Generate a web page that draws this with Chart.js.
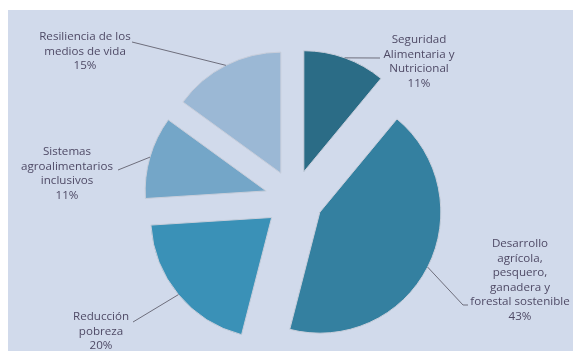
<!DOCTYPE html>
<html>
<head>
<meta charset="utf-8">
<script src="https://cdn.jsdelivr.net/npm/chart.js@4.4.1/dist/chart.umd.min.js"></script>
<style>
  html, body { margin: 0; padding: 0; background: #ffffff; }
  #wrap { width: 573px; height: 351px; }
</style>
</head>
<body>
<div id="wrap"><canvas id="pieChart" width="573" height="351"></canvas></div>
<script>
// ─── DATA ───
const categories = [
    ['Seguridad', 'Alimentaria y', 'Nutricional'],
    ['Desarrollo', 'agrícola,', 'pesquero,', 'ganadera y', 'forestal sostenible'],
    ['Reducción', 'pobreza'],
    ['Sistemas', 'agroalimentarios', 'inclusivos'],
    ['Resiliencia de los', 'medios de vida']
];
const shares = [11, 43, 20, 11, 15];
const sliceColors = ['#2b6c86', '#3480a0', '#3a91b7', '#74a6c8', '#9bb8d5'];

// ─── LABEL LAYOUT (text centre, first line y, leader path after the arc point) ───
const labelLayout = [
    { x: 419, y: 40,  leader: [[380, 58]] },
    { x: 520, y: 244, leader: [[463, 305], [468, 305]] },
    { x: 101, y: 317, leader: [[133, 322]] },
    { x: 67,  y: 152, leader: [[118, 170]] },
    { x: 85,  y: 37,  leader: [[132, 42]] }
];
const explode = 29;      // how far each slice is pulled out
const lineHeight = 14.5;

// panel behind the pie
const panelPlugin = {
    id: 'panel',
    beforeDraw(chart) {
        const c = chart.ctx;
        c.save();
        c.fillStyle = '#ffffff';
        c.fillRect(0, 0, chart.width, chart.height);
        c.fillStyle = '#d1daeb';
        c.fillRect(8, 10, chart.width - 8, chart.height - 10);
        c.restore();
    }
};

// draw every slice pushed out along its mid angle, same radius for all
const explodePlugin = {
    id: 'explode',
    beforeDatasetDraw(chart, args) {
        const c = chart.ctx;
        args.meta.data.forEach(arc => {
            const mid = (arc.startAngle + arc.endAngle) / 2;
            c.save();
            c.translate(Math.cos(mid) * explode, Math.sin(mid) * explode);
            arc.draw(c);
            c.restore();
        });
        return false;
    }
};

// leader lines and multi-line labels
const labelPlugin = {
    id: 'sliceLabels',
    afterDatasetsDraw(chart) {
        const c = chart.ctx;
        const meta = chart.getDatasetMeta(0);
        c.save();
        c.font = '11.6px "Open Sans", sans-serif';
        c.textAlign = 'center';
        c.textBaseline = 'middle';
        meta.data.forEach((arc, i) => {
            const mid = (arc.startAngle + arc.endAngle) / 2;
            const r = explode + arc.outerRadius;
            const lay = labelLayout[i];
            c.beginPath();
            c.strokeStyle = '#6e6e7c';
            c.lineWidth = 1;
            c.moveTo(arc.x + Math.cos(mid) * r, arc.y + Math.sin(mid) * r);
            lay.leader.forEach(p => c.lineTo(p[0], p[1]));
            c.stroke();

            const lines = categories[i].concat([shares[i] + '%']);
            c.fillStyle = '#4f4a66';
            lines.forEach((t, k) => c.fillText(t, lay.x, lay.y + k * lineHeight));
        });
        c.restore();
    }
};

// ─── CREATE THE CHART ───
const ctx = document.getElementById('pieChart').getContext('2d');
new Chart(ctx, {
    type: 'pie',
    data: {
        labels: categories.map(l => l.join(' ')),
        datasets: [{
            data: shares,
            backgroundColor: sliceColors,
            borderColor: '#c8cedb',
            borderWidth: 1,
            radius: 121
        }]
    },
    options: {
        responsive: false,
        animation: false,
        layout: { padding: { left: 15, top: 47, right: 0, bottom: 0 } },
        plugins: {
            legend: { display: false },
            tooltip: { enabled: false }
        }
    },
    plugins: [panelPlugin, explodePlugin, labelPlugin]
});
</script>
</body>
</html>
